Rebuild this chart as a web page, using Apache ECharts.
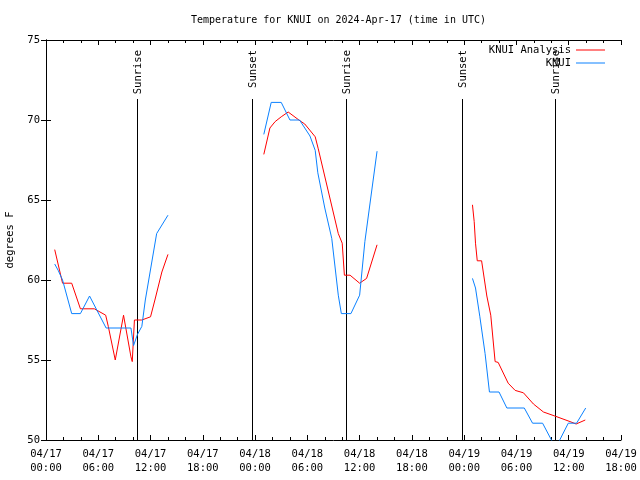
<!DOCTYPE html>
<html>
<head>
<meta charset="utf-8">
<script src="https://cdn.jsdelivr.net/npm/echarts@6/dist/echarts.min.js"></script>
<style>html,body{margin:0;padding:0;background:#fff;}#c{width:640px;height:480px;}</style>
</head>
<body>
<div id="c"></div>
<script>
// Hours since 2024-04-17 00:00 UTC; null marks a gap in the record
var analysisHours = [1, 1.9, 2.95, 3.95, 5.55, 6.85, 7.15, 7.95, 8.9, 9.75, 9.9, 10.15, 11, 12, 12.5, 13.3, 14,
  20,
  25, 25.7, 26.3, 27, 27.8, 29.15, 29.7, 30.9, 31.25, 33.55, 34, 34.25, 34.9, 36, 36.8, 38,
  44,
  48.95, 49.15, 49.3, 49.5, 50, 50.6, 51.05, 51.55, 51.9, 53.05, 53.85, 54.8, 55.95, 57.1, 58.4, 60.15, 60.85, 61.9];
var analysisTemps = [61.9, 59.8, 59.8, 58.2, 58.2, 57.8, 57.1, 55.0, 57.8, 55.2, 54.9, 57.5, 57.5, 57.7, 58.75, 60.5, 61.6,
  null,
  67.85, 69.5, 69.9, 70.2, 70.5, 69.95, 69.75, 68.95, 68.2, 62.9, 62.3, 60.3, 60.3, 59.8, 60.1, 62.2,
  null,
  64.7, 63.65, 62.3, 61.2, 61.2, 59.0, 57.8, 54.9, 54.85, 53.55, 53.1, 52.95, 52.25, 51.75, 51.5, 51.15, 51.0, 51.25];

var obsHours = [1, 1.4, 1.9, 2.95, 3.95, 5, 6.9, 9.75, 10.05, 10.5, 11, 11.4, 12.7, 14,
  20,
  25, 25.85, 27, 28, 29.1, 29.7, 30.3, 30.9, 31.2, 32, 32.8, 33.55, 33.9, 35, 36, 36.6, 38,
  44,
  48.95, 49.3, 49.8, 50.4, 50.9, 52, 52.9, 54.9, 55.85, 57, 58.5, 59.95, 60.9, 61.95];
var obsTemps = [61.0, 60.6, 60.0, 57.9, 57.9, 59.0, 57.0, 57.0, 55.9, 56.6, 57.1, 58.75, 62.9, 64.05,
  null,
  69.1, 71.1, 71.1, 70.0, 70.0, 69.5, 69.0, 68.1, 66.7, 64.5, 62.6, 59.05, 57.9, 57.9, 59.05, 62.4, 68.05,
  null,
  60.1, 59.5, 57.7, 55.4, 53.0, 53.0, 52.0, 52.0, 51.05, 51.05, 49.5, 51.05, 51.05, 52.0];

var sunHours = [10.47, 23.7, 34.45, 47.7, 58.45];
var sunLabels = ['Sunrise', 'Sunset', 'Sunrise', 'Sunset', 'Sunrise'];

var seriesNames = ['KNUI Analysis', 'KNUI'];
var titleText = 'Temperature for KNUI on 2024-Apr-17 (time in UTC)';
var yName = 'degrees F';
var xMin = 0, xMax = 66, xStep = 6;
var yMin = 50, yMax = 75, yStep = 5;

var FONT = 'DejaVu Sans Mono';
function pairs(hs, ts) {
  return hs.map(function (h, i) { return [h, ts[i] == null ? '-' : ts[i]]; });
}
function pad(n) { return (n < 10 ? '0' : '') + n; }
function xLabel(v) {
  var day = 17 + Math.floor(v / 24);
  var hh = v % 24;
  return '04/' + pad(day) + '\n' + pad(hh) + ':00';
}

var chart = echarts.init(document.getElementById('c'), null, {renderer: 'canvas'});
var axisLine = {show: true, lineStyle: {color: '#000', width: 1}};
chart.setOption({
  animation: false,
  backgroundColor: '#fff',
  title: {
    text: titleText, left: 186, top: 10,
    textStyle: {fontFamily: FONT, fontSize: 10, fontWeight: 'normal', color: '#000'}
  },
  legend: {
    orient: 'vertical', right: 30, top: 39, align: 'right',
    itemWidth: 29, itemHeight: 1, itemGap: 1, icon: 'rect',
    textStyle: {fontFamily: FONT, fontSize: 10.5, color: '#000', lineHeight: 12},
    data: seriesNames
  },
  grid: {left: 46, right: 19, top: 40, bottom: 40, containLabel: false, outerBoundsMode: 'none'},
  xAxis: [{
    type: 'value', min: xMin, max: xMax, interval: xStep, position: 'bottom',
    axisLine: axisLine,
    axisTick: {show: true, inside: true, length: 5, lineStyle: {color: '#000'}},
    minorTick: {show: true, splitNumber: 3, length: 3, lineStyle: {color: '#000'}},
    splitLine: {show: false},
    axisLabel: {formatter: xLabel, fontFamily: FONT, fontSize: 10.5, color: '#000', margin: 7, lineHeight: 14}
  }, {
    type: 'value', min: xMin, max: xMax, interval: xStep, position: 'top',
    axisLine: axisLine,
    axisTick: {show: true, inside: true, length: 5, lineStyle: {color: '#000'}},
    minorTick: {show: true, splitNumber: 3, length: 3, lineStyle: {color: '#000'}},
    splitLine: {show: false}, axisLabel: {show: false}
  }],
  yAxis: [{
    type: 'value', min: yMin, max: yMax, interval: yStep, position: 'left',
    name: yName, nameLocation: 'middle', nameGap: 30,
    nameTextStyle: {fontFamily: FONT, fontSize: 10.5, color: '#000'},
    axisLine: axisLine,
    axisTick: {show: true, inside: true, length: 5, lineStyle: {color: '#000'}},
    splitLine: {show: false},
    axisLabel: {fontFamily: FONT, fontSize: 10.5, color: '#000', margin: 6}
  }, {
    type: 'value', min: yMin, max: yMax, interval: yStep, position: 'right',
    axisLine: axisLine,
    axisTick: {show: true, inside: true, length: 5, lineStyle: {color: '#000'}},
    splitLine: {show: false}, axisLabel: {show: false}
  }],
  series: [{
    name: seriesNames[0], type: 'line', data: pairs(analysisHours, analysisTemps),
    showSymbol: false, symbol: 'none', connectNulls: false, clip: true,
    lineStyle: {color: '#ff0000', width: 1}, itemStyle: {color: '#ff0000'}, z: 3
  }, {
    name: seriesNames[1], type: 'line', data: pairs(obsHours, obsTemps),
    showSymbol: false, symbol: 'none', connectNulls: false, clip: true,
    lineStyle: {color: '#0a80ff', width: 1}, itemStyle: {color: '#0a80ff'}, z: 4
  }, {
    type: 'custom', silent: true, z: 2,
    data: sunHours.map(function (h) { return [h, yMin]; }),
    renderItem: function (params, api) {
      var cs = params.coordSys;
      var p = api.coord([api.value(0), yMin]);
      var x = Math.round(p[0]) + 0.5;
      return {
        type: 'group',
        children: [{
          type: 'line',
          shape: {x1: x, y1: p[1], x2: x, y2: cs.y + 59},
          style: {stroke: '#000', lineWidth: 1}
        }, {
          type: 'text', x: x + 1, y: cs.y + 10, rotation: Math.PI / 2,
          style: {text: sunLabels[params.dataIndex], align: 'right', verticalAlign: 'middle',
            font: '10.5px "' + FONT + '"', fill: '#000'}
        }]
      };
    }
  }]
});
</script>
</body>
</html>
